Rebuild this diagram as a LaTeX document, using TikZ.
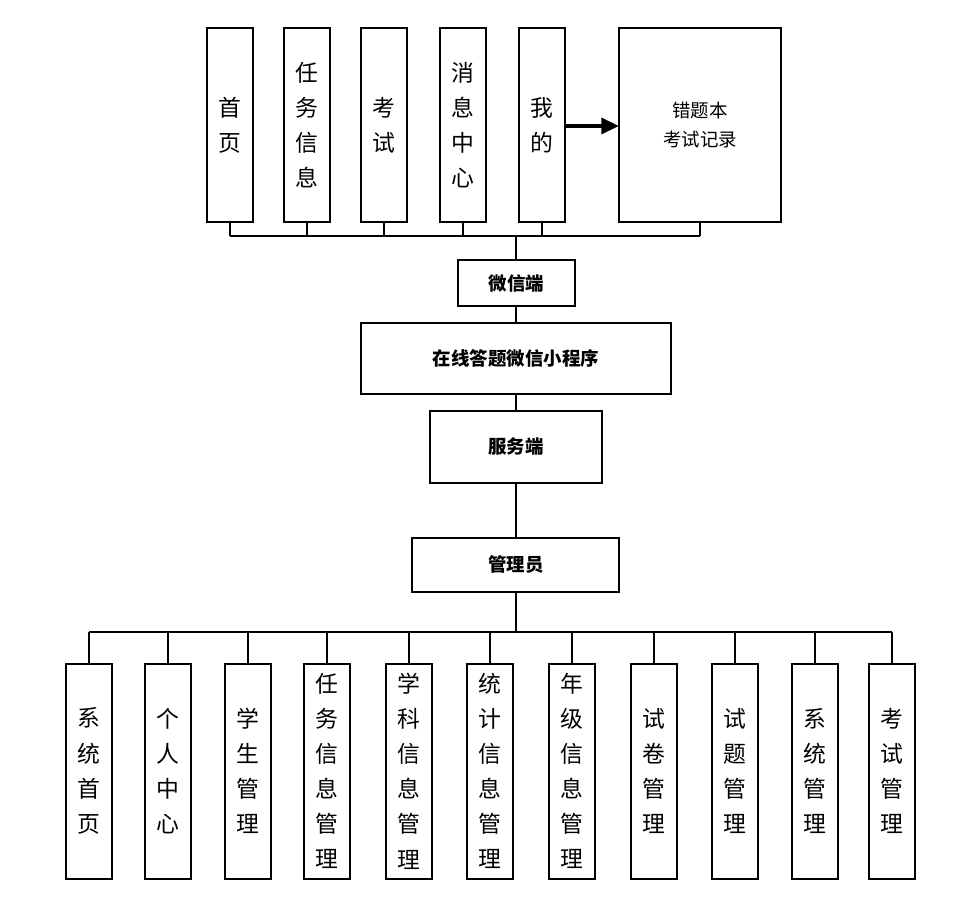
\documentclass[tikz,border=0pt]{standalone}
\usepackage{fontspec}
\newfontfamily\cjk{Noto Sans CJK SC}
\usetikzlibrary{arrows.meta}
\tikzset{
 bx/.style={draw,line width=1pt,rectangle},
 vt/.style={font=\cjk\fontsize{13}{20}\selectfont,align=center},
 bt/.style={font=\cjk\bfseries\fontsize{10.5}{13}\selectfont},
 ln/.style={line width=1pt}
}
\begin{document}
\begin{tikzpicture}[x=0.02cm,y=-0.02cm]
\useasboundingbox (0,0) rectangle (973,912);
% top boxes
\foreach \n/\a/\t in {t1/207/首\\页, t2/284/任\\务\\信\\息, t3/361/考\\试, t4/440/消\\息\\中\\心, t5/519/我\\的}{
  \draw[bx] (\a,28) rectangle (\a+46,222);
  \node[vt] (\n) at (\a+23,125) {\t};
  \coordinate (\n b) at (\a+23,222);
  \coordinate (\n c) at (\a+23,236);
  \draw[ln] (\n b) -- (\n c);
}
\draw[bx] (619,28) rectangle (781,222);
\node[font=\cjk\fontsize{10.5}{16}\selectfont,align=center] (t6) at (700,125) {错题本\\考试记录};
\coordinate (t6b) at (700,222);
\coordinate (t6c) at (700,236);
\draw[ln] (t6b) -- (t6c);
\draw[ln] (t1c) -- (t6c);
\draw[line width=2pt,-{Triangle[length=10pt,width=9pt]}] (565,126) -- (619,126);
% middle
\draw[bx] (458,260) rectangle (575,306); \node[bt] (wx) at (516.5,283) {微信端};
\draw[bx] (361,323) rectangle (671,394); \node[bt] (xcx) at (516,358) {在线答题微信小程序};
\draw[bx] (430,411) rectangle (602,483); \node[bt] (fw) at (516,447) {服务端};
\draw[bx] (412,538) rectangle (619,592); \node[bt] (gl) at (516,565) {管理员};
\coordinate (m0) at (516,236);
\draw[ln] (m0) -- (516,260) (516,306) -- (516,323) (516,394) -- (516,411) (516,483) -- (516,538) (516,592) -- (516,632);
% bottom
\coordinate (bl) at (89,632); \coordinate (br) at (892,632);
\draw[ln] (bl) -- (br);
\foreach \n/\c/\t in {b1/89/系\\统\\首\\页, b2/168/个\\人\\中\\心, b3/248/学\\生\\管\\理, b4/327/任\\务\\信\\息\\管\\理, b5/409/学\\科\\信\\息\\管\\理, b6/490/统\\计\\信\\息\\管\\理, b7/572/年\\级\\信\\息\\管\\理, b8/654/试\\卷\\管\\理, b9/735/试\\题\\管\\理, b10/815/系\\统\\管\\理, b11/892/考\\试\\管\\理}{
  \draw[bx] (\c-23,664) rectangle (\c+23,879);
  \node[vt] (\n) at (\c,771) {\t};
  \draw[ln] (\c,632) -- (\c,664);
}
\end{tikzpicture}
\end{document}
